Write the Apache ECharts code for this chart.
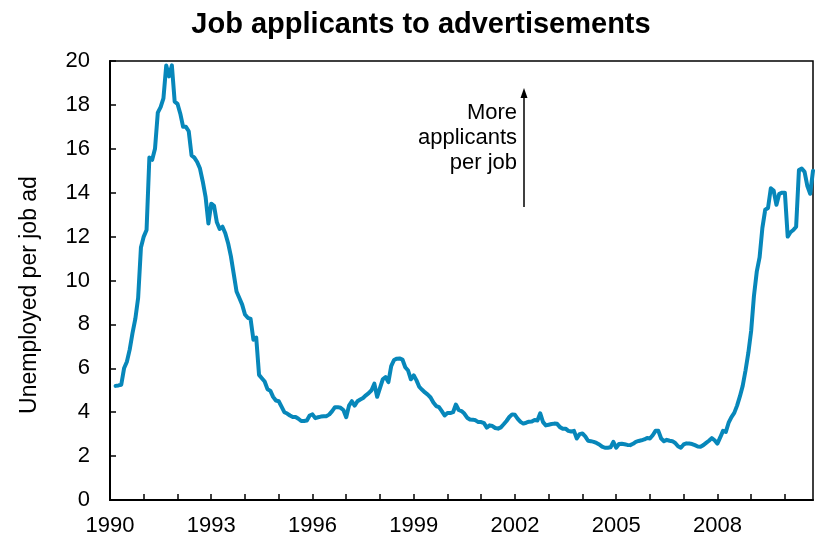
<!DOCTYPE html>
<html>
<head>
<meta charset="utf-8">
<script src="https://cdn.jsdelivr.net/npm/echarts@6/dist/echarts.min.js"></script>
<style>
html,body{margin:0;padding:0;background:#fff;}
#chart{width:816px;height:540px;}
</style>
</head>
<body>
<div id="chart"></div>
<script>
// Unemployed per job advertisement, monthly, Jan 1990 - Nov 2010
const startYear = 1990;
const v1990 = [null, null, 5.2, 5.22, 5.25, 6.0, 6.3, 6.85, 7.6, 8.25, 9.2, 11.5];
const v1991 = [12.0, 12.3, 15.6, 15.5, 16.0, 17.65, 17.9, 18.3, 19.8, 19.3, 19.8, 18.15];
const v1992 = [18.05, 17.6, 17.0, 17.0, 16.8, 15.7, 15.6, 15.4, 15.1, 14.5, 13.8, 12.6];
const v1993 = [13.5, 13.4, 12.65, 12.35, 12.45, 12.15, 11.7, 11.1, 10.3, 9.5, 9.2, 8.9];
const v1994 = [8.45, 8.3, 8.25, 7.3, 7.4, 5.7, 5.55, 5.4, 5.05, 4.98, 4.7, 4.53];
const v1995 = [4.5, 4.25, 4.0, 3.94, 3.85, 3.78, 3.78, 3.7, 3.6, 3.6, 3.62, 3.85];
const v1996 = [3.9, 3.73, 3.77, 3.8, 3.82, 3.82, 3.9, 4.05, 4.23, 4.23, 4.2, 4.1];
const v1997 = [3.77, 4.3, 4.5, 4.3, 4.5, 4.58, 4.65, 4.77, 4.87, 5.0, 5.3, 4.7];
const v1998 = [5.1, 5.5, 5.6, 5.37, 6.1, 6.38, 6.44, 6.45, 6.4, 6.05, 5.9, 5.5];
const v1999 = [5.68, 5.45, 5.15, 5.02, 4.9, 4.8, 4.67, 4.44, 4.28, 4.23, 4.05, 3.85];
const v2000 = [3.96, 3.96, 4.0, 4.35, 4.1, 4.05, 3.94, 3.75, 3.67, 3.66, 3.63, 3.55];
const v2001 = [3.55, 3.5, 3.3, 3.4, 3.37, 3.28, 3.25, 3.31, 3.45, 3.6, 3.78, 3.9];
const v2002 = [3.88, 3.7, 3.56, 3.48, 3.52, 3.57, 3.58, 3.65, 3.62, 3.95, 3.55, 3.4];
const v2003 = [3.43, 3.46, 3.48, 3.47, 3.32, 3.25, 3.25, 3.15, 3.12, 3.15, 2.8, 3.0];
const v2004 = [3.03, 2.9, 2.7, 2.68, 2.65, 2.6, 2.53, 2.43, 2.38, 2.38, 2.4, 2.65];
const v2005 = [2.38, 2.55, 2.56, 2.54, 2.51, 2.5, 2.56, 2.65, 2.69, 2.72, 2.76, 2.83];
const v2006 = [2.8, 2.95, 3.15, 3.15, 2.8, 2.68, 2.74, 2.7, 2.68, 2.6, 2.45, 2.38];
const v2007 = [2.53, 2.58, 2.57, 2.55, 2.5, 2.44, 2.43, 2.5, 2.6, 2.7, 2.82, 2.72];
const v2008 = [2.57, 2.85, 3.15, 3.1, 3.52, 3.78, 3.97, 4.3, 4.72, 5.2, 5.9, 6.7];
const v2009 = [7.7, 9.3, 10.4, 11.05, 12.4, 13.22, 13.3, 14.2, 14.1, 13.45, 13.95, 14.0];
const v2010 = [14.0, 12.0, 12.2, 12.3, 12.45, 15.03, 15.1, 14.95, 14.3, 13.95, 15.0];

const values = [].concat(v1990, v1991, v1992, v1993, v1994, v1995, v1996, v1997, v1998,
  v1999, v2000, v2001, v2002, v2003, v2004, v2005, v2006, v2007, v2008, v2009, v2010);

const yearLabels = ['1990', '1993', '1996', '1999', '2002', '2005', '2008'];
const titleText = 'Job applicants to advertisements';
const yAxisTitle = 'Unemployed per job ad';
const noteText = 'More\napplicants\nper job';

const months = [];
for (let i = 0; i < values.length; i++) {
  const y = startYear + Math.floor(i / 12);
  const m = (i % 12) + 1;
  months.push(y + '-' + (m < 10 ? '0' + m : m));
}

const FONT = '"Liberation Sans", Arial, sans-serif';
const chart = echarts.init(document.getElementById('chart'), null, {renderer: 'canvas'});
chart.setOption({
  animation: false,
  backgroundColor: '#fff',
  title: {
    text: titleText,
    left: 416,
    textAlign: 'center',
    top: 5,
    textStyle: {fontFamily: FONT, fontSize: 29, fontWeight: 'bold', color: '#000'}
  },
  grid: {
    left: 110, right: 3, top: 61, bottom: 40,
    show: true, borderColor: '#000', borderWidth: 1.5, containLabel: false
  },
  xAxis: {
    type: 'category',
    data: months,
    boundaryGap: false,
    axisLine: {show: true, lineStyle: {color: '#000', width: 2}},
    axisTick: {
      show: true, inside: true, length: 6,
      interval: function (idx) { return idx % 12 === 0; },
      lineStyle: {color: '#000', width: 1.5}
    },
    axisLabel: {
      interval: function (idx, val) { return yearLabels.indexOf(String(val).slice(0, 4)) >= 0 && idx % 12 === 0; },
      formatter: function (val) { return String(val).slice(0, 4); },
      fontFamily: FONT, fontSize: 22, color: '#000', margin: 15
    },
    splitLine: {show: false}
  },
  yAxis: {
    type: 'value',
    min: 0, max: 20, interval: 2,
    axisLine: {show: true, lineStyle: {color: '#000', width: 2}},
    axisTick: {show: true, inside: true, length: 6, lineStyle: {color: '#000', width: 1.5}},
    axisLabel: {fontFamily: FONT, fontSize: 22, color: '#000', margin: 20},
    splitLine: {show: false}
  },
  series: [{
    type: 'line',
    data: values,
    showSymbol: false,
    connectNulls: false,
    lineStyle: {color: '#0787BA', width: 4, join: 'round', cap: 'round'},
    itemStyle: {color: '#0787BA'},
    z: 1
  }],
  graphic: [
    {
      type: 'text', x: 30, y: 295, rotation: Math.PI / 2,
      style: {text: yAxisTitle, font: '23px ' + FONT, fill: '#000', textAlign: 'center', textVerticalAlign: 'middle'}
    },
    {
      type: 'text', x: 517, y: 100,
      style: {text: noteText, font: '22px ' + FONT, fill: '#000', textAlign: 'right', textVerticalAlign: 'top', lineHeight: 25}
    },
    {
      type: 'line', shape: {x1: 524, y1: 207, x2: 524, y2: 95},
      style: {stroke: '#000', lineWidth: 1.5}
    },
    {
      type: 'polygon', shape: {points: [[524, 88], [520.5, 98], [527.5, 98]]},
      style: {fill: '#000'}
    }
  ]
});
</script>
</body>
</html>
